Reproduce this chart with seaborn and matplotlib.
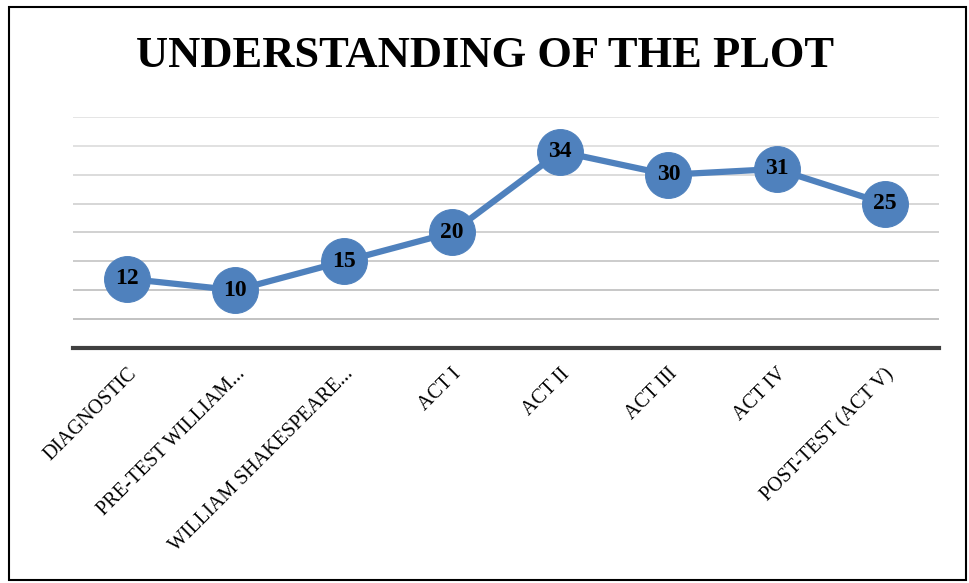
import pandas as pd
import numpy as np
import matplotlib
matplotlib.use('Agg')
import matplotlib.pyplot as plt
from matplotlib.patches import Rectangle
import seaborn as sns

# data
stages = ['DIAGNOSTIC', 'PRE-TEST WILLIAM...', 'WILLIAM SHAKESPEARE...', 'ACT I',
          'ACT II', 'ACT III', 'ACT IV', 'POST-TEST (ACT V)']
scores = [12, 10, 15, 20, 34, 30, 31, 25]
y_ticks = [0, 5, 10, 15, 20, 25, 30, 35, 40]

BLUE = '#4f81bd'
SERIF = ['Liberation Serif', 'DejaVu Serif']

sns.set_theme(style='white')
plt.rcParams['font.family'] = SERIF

df = pd.DataFrame({'pos': np.arange(len(stages)), 'score': scores})

fig = plt.figure(figsize=(9.69, 5.83), dpi=100)
ax = fig.add_axes([73 / 969, 1 - 348 / 583, (939 - 73) / 969, (348 - 117) / 583])

sns.lineplot(data=df, x='pos', y='score', ax=ax, color=BLUE, linewidth=4.5,
             marker='o', markersize=33, markeredgecolor=BLUE, markerfacecolor=BLUE,
             zorder=3)

for x, v in zip(df['pos'], df['score']):
    ax.text(x, v, str(v), ha='center', va='center', fontsize=17,
            fontweight='bold', color='black', zorder=4, family=SERIF)

ax.set_xlim(-0.5, len(stages) - 0.5)
ax.set_ylim(0, 40)
ax.set_yticks(y_ticks)
ax.set_yticklabels([])
ax.set_xticks(df['pos'])
ax.set_xticklabels(stages, rotation=45, ha='right', va='top',
                   rotation_mode='anchor', fontsize=14.5, family=SERIF, color='black')
ax.tick_params(axis='both', length=0)
ax.tick_params(axis='x', pad=12)
ax.set_xlabel('')
ax.set_ylabel('')

# light horizontal gridlines, fading toward the top
ax.yaxis.grid(True, linewidth=1.2)
grid_lines = ax.get_ygridlines()
shades = np.linspace(0.70, 0.88, len(grid_lines))
for gl, s in zip(grid_lines, shades):
    gl.set_color(str(s))

for side in ['top', 'right', 'left']:
    ax.spines[side].set_visible(False)
ax.spines['bottom'].set_color('#404040')
ax.spines['bottom'].set_linewidth(3)
ax.spines['bottom'].set_zorder(5)

fig.text(0.5, 1 - 56 / 583, 'UNDERSTANDING OF THE PLOT', ha='center', va='center',
         fontsize=32, fontweight='bold', color='black', family=SERIF)

# thin black frame around the chart area
fig.add_artist(Rectangle((8.5 / 969, 3 / 583), (966 - 8.5) / 969, (576 - 3) / 583,
                         transform=fig.transFigure, fill=False,
                         edgecolor='black', linewidth=1.5))

fig.savefig('out.png', dpi=100, facecolor='white')
